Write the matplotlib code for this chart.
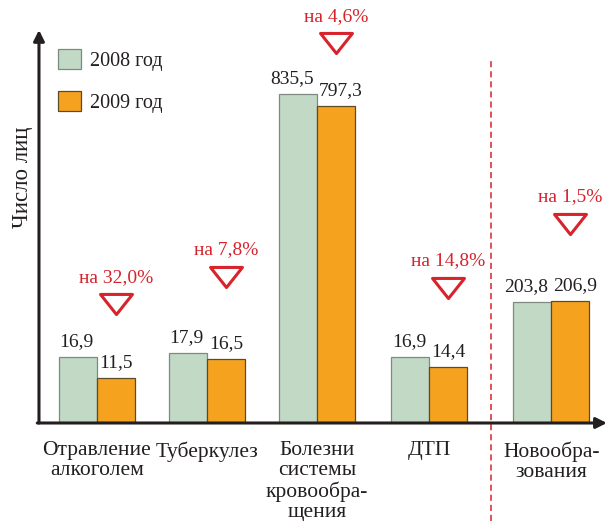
import numpy as np
import matplotlib
matplotlib.use('Agg')
import matplotlib.pyplot as plt
from matplotlib.path import Path
from matplotlib.patches import Patch
from matplotlib import transforms

# data
categories = ['Отравление\nалкоголем', 'Туберкулез',
              'Болезни\nсистемы\nкровообра-\nщения', 'ДТП', 'Новообра-\nзования']
values_2008 = [16.9, 17.9, 835.5, 16.9, 203.8]
values_2009 = [11.5, 16.5, 797.3, 14.4, 206.9]
labels_2008 = ['16,9', '17,9', '835,5', '16,9', '203,8']
labels_2009 = ['11,5', '16,5', '797,3', '14,4', '206,9']
decrease = ['на 32,0%', 'на 7,8%', 'на 4,6%', 'на 14,8%', 'на 1,5%']
series_names = ['2008 год', '2009 год']

GREEN = '#c1d9c5'
ORANGE = '#f5a31f'
RED = '#d8232c'
INK = '#231f20'

plt.rcParams['font.family'] = ['Liberation Serif', 'DejaVu Serif']

# the original uses a compressed (non-linear) vertical scale
knot_v = [0, 20, 200, 850, 1100]
knot_px = [0, 78, 120, 334, 416]


def fwd(v):
    return np.interp(v, knot_v, knot_px)


def inv(p):
    return np.interp(p, knot_px, knot_v)


fig = plt.figure(figsize=(6.1, 5.21), dpi=100)
ax = fig.add_axes([0.0639, 0.1881, 0.931, 0.7543])
ax.set_yscale('function', functions=(fwd, inv))

xpos = np.array([0, 1, 2, 3.02, 4.13])
w = 0.345

ax.bar(xpos - w / 2, values_2008, w, color=GREEN, edgecolor='#7d8a80', linewidth=0.9)
ax.bar(xpos + w / 2, values_2009, w, color=ORANGE, edgecolor='#5e4a28', linewidth=0.9)

# value labels sit either side of the group centre
for x, v, s in zip(xpos, values_2008, labels_2008):
    ax.annotate(s, (x, v), xytext=(-2.2, 5), textcoords='offset points',
                ha='right', va='bottom', fontsize=14, color=INK)
for x, v, s in zip(xpos, values_2009, labels_2009):
    ax.annotate(s, (x, v), xytext=(1.5, 5), textcoords='offset points',
                ha='left', va='bottom', fontsize=14, color=INK)

# decrease markers
tri = Path([(-1, 0.63), (1, 0.63), (0, -0.63), (-1, 0.63)],
           [Path.MOVETO, Path.LINETO, Path.LINETO, Path.CLOSEPOLY])
tri_off = [63, 71, 52, 68, 66]
for x, v, s, off in zip(xpos + w / 2, values_2009, decrease, tri_off):
    tr = transforms.offset_copy(ax.transData, fig=fig, x=0, y=off + 11, units='dots')
    ax.plot([x], [v], marker=tri, markersize=23, markerfacecolor='none',
            markeredgecolor=RED, markeredgewidth=2.2, transform=tr, clip_on=False)
    tr2 = transforms.offset_copy(ax.transData, fig=fig, x=0, y=off + 38, units='dots')
    ax.text(x, v, s, transform=tr2, ha='center', va='center', fontsize=14,
            color=RED, clip_on=False)

# separator
sep = transforms.blended_transform_factory(ax.transData, ax.transAxes)
ax.plot([3.58, 3.58], [-0.25, 0.929], transform=sep, clip_on=False,
        color=RED, lw=1.1, dashes=(4, 2.6))

ax.set_xlim(-0.527, 4.636)
ax.set_ylim(0, 1030)

ax.set_xticks(xpos, categories, fontsize=15.5, color=INK, linespacing=1.08)
ax.tick_params(axis='x', length=0, pad=13)
ax.set_yticks([])
ax.yaxis.set_minor_locator(matplotlib.ticker.NullLocator())
for sp in ax.spines.values():
    sp.set_visible(False)

arrow = dict(arrowstyle='-|>', lw=2.2, color=INK, mutation_scale=16, shrinkA=0, shrinkB=0)
ax.annotate('', xy=(0, 1), xytext=(0, 0), xycoords='axes fraction', arrowprops=arrow)
ax.annotate('', xy=(1, 0), xytext=(-0.003, 0), xycoords='axes fraction', arrowprops=arrow)

ax.set_ylabel('Число лиц', fontsize=16.5, color=INK)
ax.yaxis.set_label_coords(-0.011, 0.626)

handles = [Patch(facecolor=GREEN, edgecolor='#7d8a80', lw=0.9),
           Patch(facecolor=ORANGE, edgecolor='#5e4a28', lw=0.9)]
ax.legend(handles, series_names, loc='upper left', bbox_to_anchor=(58 / 610, 1 - 49 / 521),
          bbox_transform=fig.transFigure, frameon=False, fontsize=14.5, borderpad=0,
          borderaxespad=0, handlelength=1.15, handleheight=1.15, handletextpad=0.45,
          labelspacing=1.0, labelcolor=INK)

plt.savefig('out.png', dpi=100)
